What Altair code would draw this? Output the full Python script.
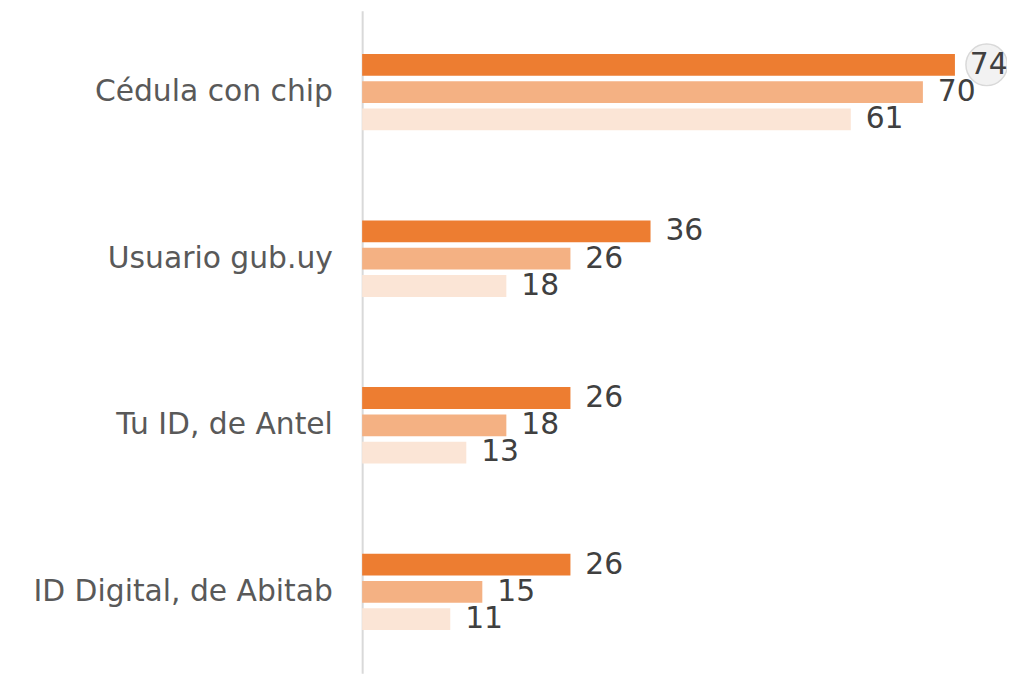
import altair as alt
import pandas as pd

categories = ["Cédula con chip", "Usuario gub.uy", "Tu ID, de Antel", "ID Digital, de Abitab"]
series = ["Serie 1", "Serie 2", "Serie 3"]
values_s1 = [74, 36, 26, 26]
values_s2 = [70, 26, 18, 15]
values_s3 = [61, 18, 13, 11]
colors = ["#ED7D31", "#F4B183", "#FBE5D6"]
highlight_category = "Cédula con chip"
highlight_series = "Serie 1"

rows = []
for s, vals in zip(series, [values_s1, values_s2, values_s3]):
    for c, v in zip(categories, vals):
        rows.append({"cat": c, "serie": s, "val": v})
df = pd.DataFrame(rows)

FONT = "DejaVu Sans"

y_enc = alt.Y("cat:N", sort=categories, title=None,
              scale=alt.Scale(paddingInner=0.5417, paddingOuter=0.26),
              axis=alt.Axis(labelFont=FONT, labelFontSize=30, labelColor="#595959",
                            labelPadding=30, ticks=False, domainColor="#d9d9d9",
                            domainWidth=2, grid=False, labelLimit=400))
yoff = alt.YOffset("serie:N", sort=series,
                   scale=alt.Scale(paddingInner=0.2, paddingOuter=0))
x_enc = alt.X("val:Q", scale=alt.Scale(domain=[0, 80.5], nice=False), axis=None)

base = alt.Chart(df).encode(y=y_enc, yOffset=yoff, x=x_enc)

bars = base.mark_bar().encode(
    color=alt.Color("serie:N", sort=series, scale=alt.Scale(domain=series, range=colors), legend=None)
)

hl = base.transform_filter(
    (alt.datum.cat == highlight_category) & (alt.datum.serie == highlight_series)
).mark_point(filled=True, fill="#f2f2f2", stroke="#d9d9d9", strokeWidth=1.5,
             size=1750, opacity=1, xOffset=32, yOffset=-2)

labels = base.mark_text(align="left", baseline="middle", dx=15, font=FONT,
                        fontSize=30, color="#404040").encode(text="val:Q")

chart = alt.layer(bars, hl, labels).properties(
    width=650, height=668,
    autosize=alt.AutoSizeParams(type="none"),
    padding={"left": 357, "top": 0, "right": 0, "bottom": 0},
).configure_view(stroke=None)

chart.save("out.html", embed_options={"renderer": "svg", "actions": False})
